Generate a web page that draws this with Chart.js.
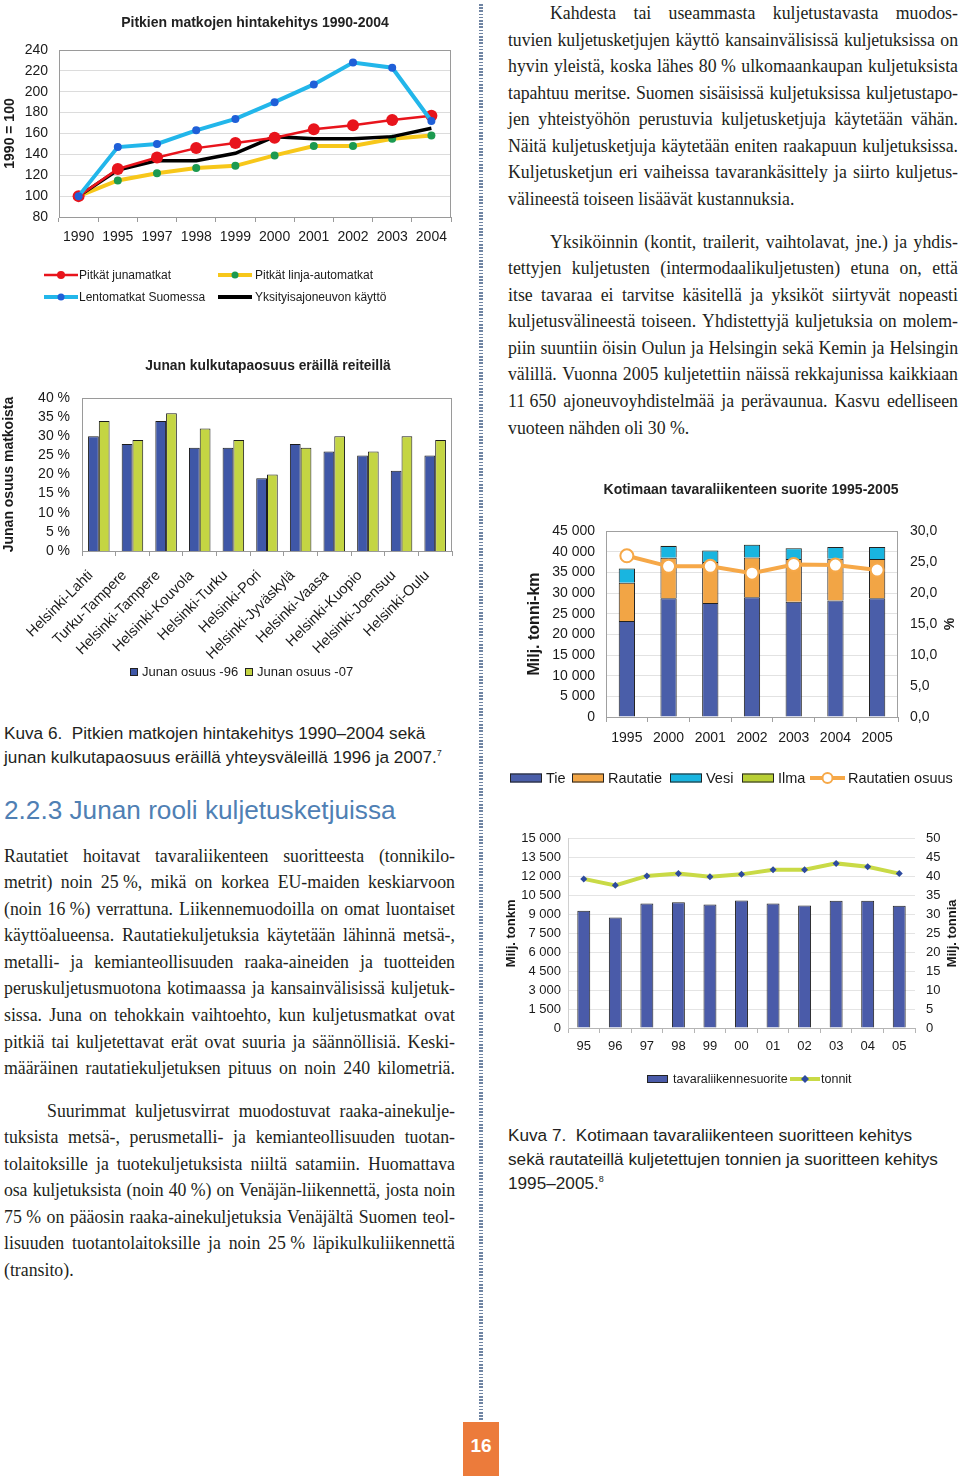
<!DOCTYPE html>
<html><head><meta charset="utf-8">
<script src="https://cdn.jsdelivr.net/npm/chart.js@4.4.0/dist/chart.umd.min.js"></script>
<style>
html,body{margin:0;padding:0;background:#fff;}
body{width:960px;height:1476px;position:relative;overflow:hidden;font-family:"Liberation Sans",Arial,sans-serif;color:#231f20;}
canvas{position:absolute;}
.para{position:absolute;font-family:"Liberation Serif","Times New Roman",serif;font-size:17.8px;line-height:26.55px;color:#231f20;}
.ln{display:flex;justify-content:space-between;white-space:nowrap;height:26.55px;}
.ln.plain{display:block;}
.cap{position:absolute;font-family:"Liberation Sans",Arial,sans-serif;font-size:17.2px;line-height:24px;color:#231f20;white-space:nowrap;}
.cap sup{font-size:9px;vertical-align:7px;line-height:0;}
#head{position:absolute;left:4px;top:795px;font-family:"Liberation Sans",Arial,sans-serif;font-size:26.2px;line-height:30px;color:#4f80b4;white-space:nowrap;}
#divider{position:absolute;left:479px;top:4px;width:4px;height:1418px;background:repeating-linear-gradient(to bottom,#6f84a3 0px,#6f84a3 1.6px,#ffffff 1.6px,#ffffff 3.2px);}
#pnum{position:absolute;left:463px;top:1422px;width:36px;height:54px;background:#ec7b3b;color:#fff;font-family:"Liberation Sans",Arial,sans-serif;font-weight:bold;font-size:19px;line-height:48px;text-align:center;}
</style></head>
<body>
<canvas id="c1" width="460" height="310" style="left:0;top:0;"></canvas>
<canvas id="c2" width="460" height="345" style="left:0;top:345px;"></canvas>
<canvas id="c3" width="460" height="310" style="left:500px;top:480px;"></canvas>
<canvas id="c4" width="460" height="280" style="left:500px;top:820px;"></canvas>

<div class="cap" style="left:4px;top:721px;">Kuva 6.&nbsp; Pitkien matkojen hintakehitys 1990–2004 sekä<br>junan kulkutapaosuus eräillä yhteysväleillä 1996 ja 2007.<sup>7</sup></div>
<div id="head">2.2.3 Junan rooli kuljetusketjuissa</div>
<div class="cap" style="left:508px;top:1123px;">Kuva 7.&nbsp; Kotimaan tavaraliikenteen suoritteen kehitys<br>sekä rautateillä kuljetettujen tonnien ja suoritteen kehitys<br>1995–2005.<sup>8</sup></div>

<div class="para" id="pR1" style="left:508px;top:0px;width:450px;"></div>
<div class="para" id="pR2" style="left:508px;top:228.7px;width:450px;"></div>
<div class="para" id="pL1" style="left:4px;top:842.7px;width:451px;"></div>
<div class="para" id="pL2" style="left:4px;top:1097.7px;width:451px;"></div>

<div id="divider"></div>
<div id="pnum">16</div>

<script>
// ---------- DATA ----------
const years1 = ['1990','1995','1997','1998','1999','2000','2001','2002','2003','2004'];
const junamatkat = [100,126,137,146,151,156,164,168,173,177];
const lentomatkat = [100,147,150,163,174,190,207,228,223,172];
const linjaautomatkat = [100,115,122,127,129,139,148,148,155,158];
const yksityisajoneuvo = [100,125,134,134,141,157,155,155,157,165];

const routes = ['Helsinki-Lahti','Turku-Tampere','Helsinki-Tampere','Helsinki-Kouvola','Helsinki-Turku','Helsinki-Pori','Helsinki-Jyväskylä','Helsinki-Vaasa','Helsinki-Kuopio','Helsinki-Joensuu','Helsinki-Oulu'];
const osuus96 = [30,28,34,27,27,19,28,26,25,21,25];
const osuus07 = [34,29,36,32,29,20,27,30,26,30,29];

const years3 = ['1995','2000','2001','2002','2003','2004','2005'];
const tie = [23200,28700,27600,29000,27900,28200,28700];
const rautatie = [9300,9800,9900,9600,10300,10100,9500];
const vesi = [3400,2900,2800,3100,2600,2800,2900];
const ilma = [20,20,20,20,20,20,20];
const rautatienOsuus = [26.0,24.3,24.3,23.2,24.6,24.5,23.7];

const years4 = ['95','96','97','98','99','00','01','02','03','04','05'];
const tavaraliikennesuorite = [9300,8770,9870,9970,9790,10100,9870,9710,10080,10080,9690];
const tonnit = [39.4,37.7,40.2,40.8,40.0,40.6,41.8,41.8,43.5,42.6,40.8];

// ---------- TEXT ----------
const textR1 = ['Kahdesta tai useammasta kuljetustavasta muodos-','tuvien kuljetusketjujen käyttö kansainvälisissä kuljetuksissa on','hyvin yleistä, koska lähes 80\u00a0% ulkomaankaupan kuljetuksista','tapahtuu meritse. Suomen sisäisissä kuljetuksissa kuljetustapo-','jen yhteistyöhön perustuvia kuljetusketjuja käytetään vähän.','Näitä kuljetusketjuja käytetään eniten raakapuun kuljetuksissa.','Kuljetusketjun eri vaiheissa tavarankäsittely ja siirto kuljetus-','välineestä toiseen  lisäävät kustannuksia.'];
const textR2 = ['Yksiköinnin (kontit, trailerit, vaihtolavat, jne.) ja yhdis-','tettyjen kuljetusten (intermodaalikuljetusten) etuna on, että','itse tavaraa ei tarvitse käsitellä ja yksiköt siirtyvät nopeasti','kuljetusvälineestä toiseen. Yhdistettyjä kuljetuksia on molem-','piin suuntiin öisin Oulun ja Helsingin sekä Kemin ja Helsingin','välillä. Vuonna 2005 kuljetettiin näissä rekkajunissa kaikkiaan','11\u00a0650 ajoneuvoyhdistelmää ja perävaunua. Kasvu edelliseen','vuoteen nähden oli 30\u00a0%.'];
const textL1 = ['Rautatiet hoitavat tavaraliikenteen suoritteesta (tonnikilo-','metrit) noin 25\u00a0%, mikä on korkea EU-maiden keskiarvoon','(noin 16\u00a0%) verrattuna. Liikennemuodoilla on omat luontaiset','käyttöalueensa. Rautatiekuljetuksia käytetään lähinnä metsä-,','metalli- ja kemianteollisuuden raaka-aineiden ja tuotteiden','peruskuljetusmuotona kotimaassa ja kansainvälisissä kuljetuk-','sissa. Juna on tehokkain vaihtoehto, kun kuljetusmatkat ovat','pitkiä tai kuljetettavat erät ovat suuria ja säännöllisiä. Keski-','määräinen rautatiekuljetuksen pituus on noin 240 kilometriä.'];
const textL2 = ['Suurimmat kuljetusvirrat muodostuvat raaka-ainekulje-','tuksista metsä-, perusmetalli- ja kemianteollisuuden tuotan-','tolaitoksille ja tuotekuljetuksista niiltä satamiin. Huomattava','osa kuljetuksista (noin 40\u00a0%) on Venäjän-liikennettä, josta noin','75\u00a0% on pääosin raaka-ainekuljetuksia Venäjältä Suomen teol-','lisuuden tuotantolaitoksille ja noin 25\u00a0% läpikulkuliikennettä','(transito).'];

function buildPara(id, lines, indent, justifyLast){
  const el = document.getElementById(id);
  const W = el.clientWidth;
  lines.forEach((t,i)=>{
    const d = document.createElement('div');
    const last = i===lines.length-1 && !justifyLast;
    d.className = 'ln' + (last ? ' plain':'');
    if(i===0 && indent) d.style.paddingLeft = indent+'px';
    if(!last){
      t.split(' ').filter(w=>w.length).forEach(w=>{const s=document.createElement('span'); s.textContent=w; d.appendChild(s);});
    } else d.textContent = t;
    el.appendChild(d);
    const m = document.createElement('span');
    m.style.whiteSpace='pre'; m.style.position='absolute'; m.style.visibility='hidden';
    m.textContent = t; el.appendChild(m);
    const nat = m.offsetWidth + (i===0?indent:0);
    el.removeChild(m);
    if(nat > W-6){ d.style.letterSpacing = ((W-6-nat)/t.length).toFixed(3)+'px'; }
  });
}
buildPara('pR1', textR1, 42, false);
buildPara('pR2', textR2, 42, false);
buildPara('pL1', textL1, 0, true);
buildPara('pL2', textL2, 43, false);

// ---------- HELPERS ----------
const FONT = '"Liberation Sans", Arial, sans-serif';
Chart.defaults.font.family = FONT;
Chart.defaults.color = '#1a1a1a';
const fmtSpace = v => String(v).replace(/\B(?=(\d{3})+(?!\d))/g,' ');
const fmtComma = v => Number(v).toFixed(1).replace('.',',');

function drawMarker(ctx, m, x, y){
  ctx.save(); ctx.beginPath();
  if(m.shape==='rectRot'){ ctx.moveTo(x,y-m.r); ctx.lineTo(x+m.r,y); ctx.lineTo(x,y+m.r); ctx.lineTo(x-m.r,y); ctx.closePath(); }
  else ctx.arc(x,y,m.r,0,Math.PI*2);
  ctx.fillStyle=m.fill; ctx.fill();
  if(m.sw){ ctx.lineWidth=m.sw; ctx.strokeStyle=m.stroke; ctx.stroke(); }
  ctx.restore();
}
const deco = {
  id:'deco',
  beforeDatasetsDraw(chart, args, o){
    if(o.border){ const a=chart.chartArea, c=chart.ctx; c.save(); c.strokeStyle=o.border; c.lineWidth=1;
      c.strokeRect(Math.round(a.left)+0.5, Math.round(a.top)+0.5, Math.round(a.right-a.left)-1, Math.round(a.bottom-a.top)); c.restore(); }
  },
  afterDraw(chart, args, o){
    const c = chart.ctx; c.save();
    if(o.title){ c.font = 'bold '+o.title.size+'px '+FONT; c.fillStyle='#222'; c.textAlign='center'; c.textBaseline='middle'; c.fillText(o.title.text, o.title.x, o.title.y); }
    (o.vtitles||[]).forEach(t=>{
      const a = chart.chartArea;
      c.save(); c.translate(t.x, (a.top+a.bottom)/2); c.rotate(-Math.PI/2);
      c.font = 'bold '+t.size+'px '+FONT; c.fillStyle='#1a1a1a'; c.textAlign='center'; c.textBaseline='middle';
      c.fillText(t.text, 0, 0); c.restore();
    });
    (o.legend||[]).forEach(it=>{
      if(it.kind==='box'){ c.fillStyle=it.fill; c.fillRect(it.x, it.y-it.h/2, it.w, it.h); c.strokeStyle=it.stroke||'#222'; c.lineWidth=1; c.strokeRect(it.x+0.5, it.y-it.h/2+0.5, it.w-1, it.h-1); }
      else { c.strokeStyle=it.color; c.lineWidth=it.lw; c.beginPath(); c.moveTo(it.x0,it.y); c.lineTo(it.x1,it.y); c.stroke(); if(it.marker) drawMarker(c,it.marker,(it.x0+it.x1)/2,it.y); }
      c.font = it.size+'px '+FONT; c.fillStyle='#1a1a1a'; c.textAlign='left'; c.textBaseline='middle'; c.fillText(it.text, it.tx, it.y+0.5);
    });
    c.restore();
  }
};

// ---------- CHART 1 ----------
const c1red='#e8141c', c1blue='#22b6ea', c1bluePt='#1f5fd8', c1yel='#f7c71a', c1grn='#1c9a50';
new Chart(document.getElementById('c1'), {
  type:'line',
  data:{ labels:years1, datasets:[
    {label:'Lentomatkat Suomessa', data:lentomatkat, borderColor:c1blue, borderWidth:4, pointRadius:4, pointBackgroundColor:c1bluePt, pointBorderWidth:0, tension:0},
    {label:'Pitkät junamatkat', data:junamatkat, borderColor:c1red, borderWidth:2.5, pointRadius:6, pointBackgroundColor:c1red, pointBorderWidth:0, tension:0},
    {label:'Yksityisajoneuvon käyttö', data:yksityisajoneuvo, borderColor:'#000', borderWidth:3.5, pointRadius:0, tension:0},
    {label:'Pitkät linja-automatkat', data:linjaautomatkat, borderColor:c1yel, borderWidth:4, pointRadius:4, pointBackgroundColor:c1grn, pointBorderWidth:0, tension:0}
  ]},
  options:{
    responsive:false, animation:false,
    layout:{padding:{left:0,right:9,top:50,bottom:53}},
    plugins:{legend:{display:false}, tooltip:{enabled:false},
      deco:{border:'#9a9a9a', title:{text:'Pitkien matkojen hintakehitys 1990-2004', x:255, y:23, size:14},
        legend:[
          {kind:'line',x0:44,x1:78,y:275,color:c1red,lw:2.5,marker:{r:4,fill:c1red},text:'Pitkät junamatkat',tx:79,size:12},
          {kind:'line',x0:218,x1:252,y:275,color:c1yel,lw:4,marker:{r:3.5,fill:c1grn},text:'Pitkät linja-automatkat',tx:255,size:12},
          {kind:'line',x0:44,x1:78,y:297,color:c1blue,lw:4,marker:{r:3.5,fill:c1bluePt},text:'Lentomatkat Suomessa',tx:79,size:12},
          {kind:'line',x0:218,x1:252,y:297,color:'#000',lw:4,text:'Yksityisajoneuvon käyttö',tx:255,size:12}
        ]}},
    scales:{
      x:{offset:true, grid:{offset:true, drawOnChartArea:false, tickLength:5, color:'#9a9a9a'}, border:{color:'#9a9a9a'},
         ticks:{font:{size:14}, padding:7, maxRotation:0, autoSkip:false}, afterFit(s){s.height=40;}},
      y:{min:80, max:240, ticks:{stepSize:20, font:{size:14}, padding:11, autoSkip:false}, grid:{color:'#dcdcdc', drawTicks:false}, border:{display:false},
         title:{display:true, text:'1990 = 100', font:{size:14, weight:'bold'}, padding:{top:2,bottom:0}}, afterFit(s){s.width=59;}}
    }
  },
  plugins:[deco]
});

// ---------- CHART 2 ----------
const c2blue='#3f57a7', c2grn='#c4d543';
new Chart(document.getElementById('c2'), {
  type:'bar',
  data:{ labels:routes, datasets:[
    {label:'Junan osuus -96', data:osuus96, backgroundColor:c2blue, borderColor:'#1c1c1c', borderWidth:1, categoryPercentage:0.64, barPercentage:1},
    {label:'Junan osuus -07', data:osuus07, backgroundColor:c2grn, borderColor:'#1c1c1c', borderWidth:1, categoryPercentage:0.64, barPercentage:1}
  ]},
  options:{
    responsive:false, animation:false,
    layout:{padding:{left:0,right:8,top:53,bottom:0}},
    plugins:{legend:{display:false}, tooltip:{enabled:false},
      deco:{border:'#9a9a9a', title:{text:'Junan kulkutapaosuus eräillä reiteillä', x:268, y:21, size:13.8},
        legend:[
          {kind:'box',x:130,y:327,w:8,h:8,fill:c2blue,text:'Junan osuus -96',tx:142,size:13},
          {kind:'box',x:245,y:327,w:8,h:8,fill:c2grn,text:'Junan osuus -07',tx:257,size:13}
        ]}},
    scales:{
      x:{grid:{offset:true, drawOnChartArea:false, tickLength:5, color:'#9a9a9a'}, border:{color:'#9a9a9a'},
         ticks:{font:{size:14.5}, padding:11, labelOffset:-8, minRotation:45, maxRotation:45, autoSkip:false}, afterFit(s){s.height=139;}},
      y:{min:0, max:40, ticks:{stepSize:5, font:{size:14}, padding:12, autoSkip:false, callback:v=>v+' %'}, grid:{display:false, drawTicks:false}, border:{display:false},
         title:{display:true, text:'Junan osuus matkoista', font:{size:14, weight:'bold'}, padding:{top:1,bottom:0}}, afterFit(s){s.width=82;}}
    }
  },
  plugins:[deco]
});

// ---------- CHART 3 ----------
const c3tie='#4a5ea9', c3rau='#f2a545', c3ves='#19b5e0', c3ilm='#b8cf34', c3line='#f6a848';
new Chart(document.getElementById('c3'), {
  type:'bar',
  data:{ labels:years3, datasets:[
    {type:'line', label:'Rautatien osuus', data:rautatienOsuus, yAxisID:'y1', order:0, borderColor:c3line, borderWidth:4, pointRadius:6.5, pointBackgroundColor:'#fff', pointBorderColor:c3line, pointBorderWidth:2, tension:0},
    {label:'Tie', data:tie, backgroundColor:c3tie, borderColor:'#222', borderWidth:1, order:1, stack:'s', categoryPercentage:1, barPercentage:0.39},
    {label:'Rautatie', data:rautatie, backgroundColor:c3rau, borderColor:'#222', borderWidth:1, order:1, stack:'s', categoryPercentage:1, barPercentage:0.39},
    {label:'Vesi', data:vesi, backgroundColor:c3ves, borderColor:'#222', borderWidth:1, order:1, stack:'s', categoryPercentage:1, barPercentage:0.39},
    {label:'Ilma', data:ilma, backgroundColor:c3ilm, borderWidth:0, order:1, stack:'s', categoryPercentage:1, barPercentage:0.39}
  ]},
  options:{
    responsive:false, animation:false,
    layout:{padding:{left:0,right:0,top:51,bottom:33}},
    plugins:{legend:{display:false}, tooltip:{enabled:false},
      deco:{border:'#a0a0a0', title:{text:'Kotimaan tavaraliikenteen suorite 1995-2005', x:251, y:10, size:14},
        vtitles:[{text:'%', x:450, size:14}],
        legend:[
          {kind:'box',x:10,y:298,w:32,h:9,fill:c3tie,text:'Tie',tx:46,size:14.5},
          {kind:'box',x:72,y:298,w:32,h:9,fill:c3rau,text:'Rautatie',tx:108,size:14.5},
          {kind:'box',x:170,y:298,w:32,h:9,fill:c3ves,text:'Vesi',tx:206,size:14.5},
          {kind:'box',x:242,y:298,w:32,h:9,fill:c3ilm,text:'Ilma',tx:278,size:14.5},
          {kind:'line',x0:310,x1:345,y:298,color:c3line,lw:4,marker:{r:5,fill:'#fff',stroke:c3line,sw:2},text:'Rautatien osuus',tx:348,size:14.5}
        ]}},
    scales:{
      x:{stacked:true, grid:{offset:true, drawOnChartArea:false, tickLength:5, color:'#a0a0a0'}, border:{color:'#a0a0a0'},
         ticks:{font:{size:14}, padding:8, maxRotation:0, autoSkip:false}, afterFit(s){s.height=40;}},
      y:{stacked:true, min:0, max:45000, position:'left', ticks:{stepSize:5000, font:{size:14}, padding:11, autoSkip:false, callback:fmtSpace}, grid:{color:'#e2e2e2', drawTicks:false}, border:{display:false},
         title:{display:true, text:'Milj. tonni-km', font:{size:16, weight:'bold'}, padding:{top:25,bottom:0}}, afterFit(s){s.width=106;}},
      y1:{min:0, max:30, position:'right', ticks:{stepSize:5, font:{size:14}, padding:12, autoSkip:false, callback:fmtComma}, grid:{display:false, drawTicks:false}, border:{display:false},
         afterFit(s){s.width=62;}}
    }
  },
  plugins:[deco]
});

// ---------- CHART 4 ----------
const c4bar='#4a5ba9', c4line='#c9da46', c4pt='#2d4a9f';
new Chart(document.getElementById('c4'), {
  type:'bar',
  data:{ labels:years4, datasets:[
    {type:'line', label:'tonnit', data:tonnit, yAxisID:'y1', order:0, borderColor:c4line, borderWidth:4, pointRadius:3.5, pointStyle:'rectRot', pointBackgroundColor:c4pt, pointBorderWidth:0, tension:0},
    {label:'tavaraliikennesuorite', data:tavaraliikennesuorite, backgroundColor:c4bar, borderColor:'#222', borderWidth:1, order:1, categoryPercentage:1, barPercentage:0.41}
  ]},
  options:{
    responsive:false, animation:false,
    layout:{padding:{left:0,right:0,top:17,bottom:32}},
    plugins:{legend:{display:false}, tooltip:{enabled:false},
      deco:{vtitles:[{text:'Milj. tonnia', x:452, size:13}],
        legend:[
          {kind:'box',x:147,y:259,w:21,h:8,fill:c4bar,text:'tavaraliikennesuorite',tx:173,size:12.5},
          {kind:'line',x0:290,x1:320,y:259,color:c4line,lw:4,marker:{shape:'rectRot',r:4,fill:c4pt},text:'tonnit',tx:321,size:12.5}
        ]}},
    scales:{
      x:{grid:{offset:true, drawOnChartArea:false, tickLength:5, color:'#b5b5b5'}, border:{color:'#b5b5b5'},
         ticks:{font:{size:13}, padding:6, maxRotation:0, autoSkip:false}, afterFit(s){s.height=40;}},
      y:{min:0, max:15000, position:'left', ticks:{stepSize:1500, font:{size:13}, padding:7, autoSkip:false, callback:fmtSpace}, grid:{color:'#e4e4e4', drawTicks:false}, border:{color:'#d0d0d0'},
         title:{display:true, text:'Milj. tonkm', font:{size:13, weight:'bold'}, padding:{top:4,bottom:0}}, afterFit(s){s.width=68;}},
      y1:{min:0, max:50, position:'right', ticks:{stepSize:5, font:{size:13}, padding:11, autoSkip:false, callback:v=>String(v)}, grid:{display:false, drawTicks:false}, border:{display:false},
         afterFit(s){s.width=45;}}
    }
  },
  plugins:[deco]
});
</script>
</body></html>
